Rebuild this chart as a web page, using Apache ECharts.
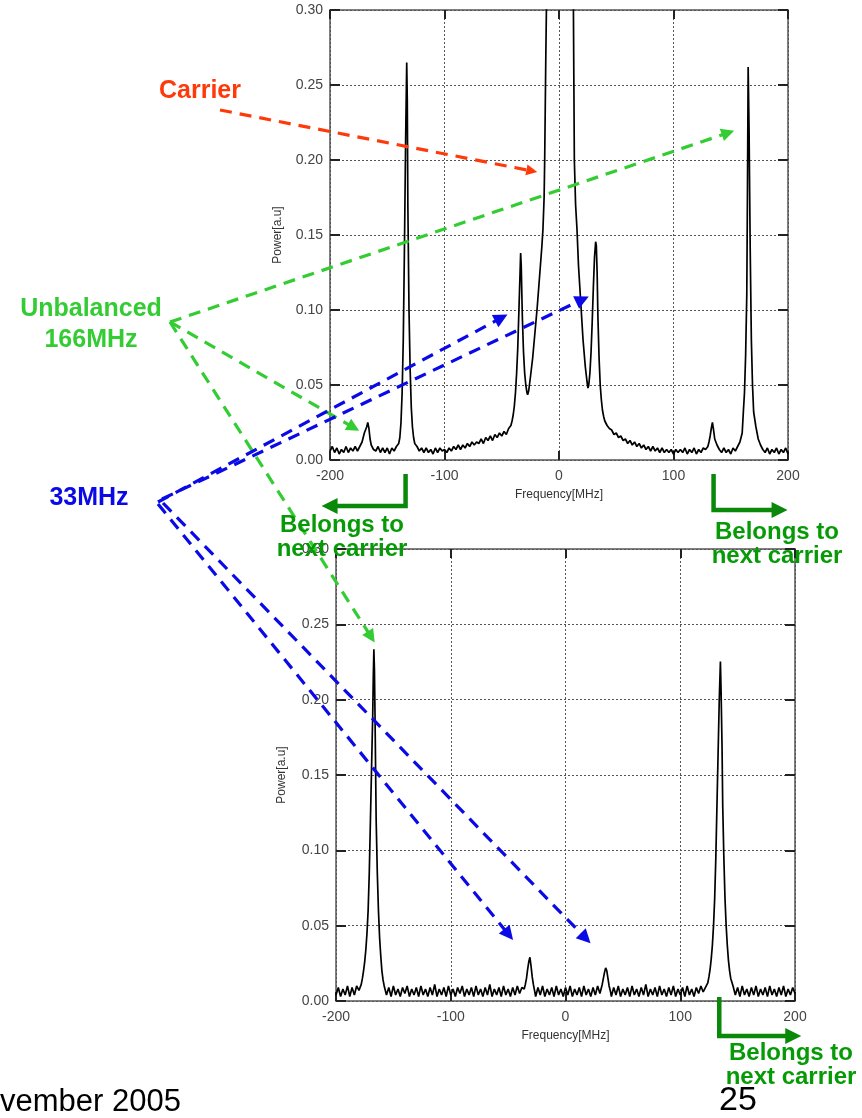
<!DOCTYPE html>
<html>
<head>
<meta charset="utf-8">
<script src="https://cdn.jsdelivr.net/npm/echarts@6/dist/echarts.min.js"></script>
<style>
html,body{margin:0;padding:0;background:#fff;}
#c{width:862px;height:1118px;}
</style>
</head>
<body>
<div id="c"></div>
<script>
// ---------- DATA ----------
const xTicks = [-200, -100, 0, 100, 200];
const yTicks = [0.00, 0.05, 0.10, 0.15, 0.20, 0.25, 0.30];

// Upper spectrum (carrier present)
const topFreq = [
-200,-198,-196,-194,-192,-190,-188,-186,-184,-182,-180,-178,-176,-174,-172,-170,-168,-167,-166,-165,-164,-162,
-160,-158,-156,-154,-152,-150,-148,-146,-144,-142,-140,-139,-138,-137,-136,-135,-134,-133,-132.5,-132,-131,-130,
-129,-128,-127,-126,-124,-122,-120,-118,-116,-114,-112,-110,-108,-106,-104,-102,-100,-98,-96,-94,-92,-90,-88,-86,
-84,-82,-80,-78,-76,-74,-72,-70,-68,-66,-64,-62,-60,-58,-56,-54,-52,-50,-48,-46,-44,-42,-41,-40,-39,-38,-37,-36,
-35,-34,-33.5,-33,-32,-31,-30,-29,-28,-27.4,-26.5,-25,-23,-21,-19,-17,-15,-14,-13,-12.5,-12,-11.5,-11,-10.5,-10,
-8,0,10,12,12.2,12.6,13.0,13.4,14.5,15.7,17,19,21,23,24.5,25.3,26,27,28,29,30,31,32,32.6,33.3,34,35,36,37,38,39,40,
42,44,46,48,50,52,54,56,58,60,62,64,66,68,70,72,74,76,78,80,82,84,86,88,90,92,94,96,98,100,102,104,106,108,110,
112,114,116,118,120,122,124,126,128,130,131,132,133,134,135,136,138,140,142,144,146,148,150,152,154,156,158,160,
161,162,163,164,164.6,165.2,166,167,168,169,170,172,174,176,178,180,182,184,186,188,190,192,194,196,198,200
];
const topPower = [
0.006,0.009,0.005,0.008,0.004,0.007,0.005,0.009,0.005,0.008,0.006,0.009,0.006,0.009,0.012,0.018,0.022,0.025,0.021,0.014,0.010,0.007,
0.006,0.009,0.005,0.008,0.005,0.008,0.004,0.008,0.006,0.009,0.011,0.015,0.025,0.045,0.080,0.140,0.210,0.265,0.240,0.170,0.100,0.060,
0.035,0.022,0.015,0.011,0.009,0.006,0.008,0.005,0.008,0.005,0.007,0.004,0.008,0.005,0.008,0.006,0.007,0.005,0.008,0.006,0.009,0.007,0.010,0.007,
0.010,0.008,0.011,0.009,0.012,0.010,0.012,0.011,0.014,0.011,0.015,0.013,0.016,0.013,0.017,0.015,0.018,0.016,0.019,0.017,0.021,0.023,0.026,0.030,0.036,0.045,0.058,0.075,
0.100,0.125,0.138,0.130,0.095,0.072,0.058,0.050,0.045,0.0435,0.046,0.055,0.068,0.085,0.102,0.122,0.142,0.154,0.175,0.200,0.235,0.270,0.300,0.340,0.400,
0.600,0.900,0.600,0.400,0.340,0.300,0.250,0.200,0.170,0.154,0.130,0.105,0.080,0.062,0.052,0.048,0.050,0.058,0.072,0.092,0.115,0.135,0.1455,0.143,0.125,0.095,0.068,0.050,0.040,0.033,0.029,0.026,
0.023,0.021,0.020,0.017,0.018,0.015,0.016,0.013,0.014,0.011,0.013,0.010,0.012,0.009,0.011,0.008,0.010,0.007,0.009,0.006,0.009,0.006,0.008,0.005,0.008,0.005,0.007,0.005,0.007,0.004,0.007,0.005,0.007,0.005,0.008,0.004,
0.007,0.005,0.008,0.004,0.007,0.005,0.008,0.007,0.009,0.012,0.016,0.021,0.025,0.020,0.014,0.010,0.007,0.005,0.008,0.005,0.007,0.004,0.008,0.006,0.009,0.012,0.018,0.032,
0.045,0.070,0.110,0.180,0.262,0.220,0.140,0.080,0.050,0.032,0.022,0.014,0.010,0.007,0.005,0.008,0.004,0.007,0.005,0.008,0.004,0.007,0.005,0.008,0.004,0.007
];

// Lower spectrum (carrier suppressed), written segment by segment
const botFreq = [
// noise -200..-180
-200,-198,-196,-194,-192,-190,-188,-186,-184,-182,-180,
// peak near -166
-178,-177,-176,-175,-174,-173,-172,-171,-170,-169,-168,-167.5,-167,-166.5,-166,-165.5,-165,-164,-163,-162,-161,-160,-159,-158,
// noise -156..-38
-156,-154,-152,-150,-148,-146,-144,-142,-140,-138,
-136,-134,-132,-130,-128,-126,-124,-122,-120,-118,
-116,-114,-112,-110,-108,-106,-104,-102,-100,-98,
-96,-94,-92,-90,-88,-86,-84,-82,-80,-78,
-76,-74,-72,-70,-68,-66,-64,-62,-60,-58,
-56,-54,-52,-50,-48,-46,-44,-42,-40,-38,
// small peak near -31
-36,-35,-34,-33,-32,-31,-30,-29,-28,-27,
// noise -26..30
-26,-24,-22,-20,-18,-16,-14,-12,-10,-8,
-6,-4,-2,0,2,4,6,8,10,12,
14,16,18,20,22,24,26,28,30,
// small peak near 35
31,32,33,34,35,36,37,38,39,
// noise 40..122
40,42,44,46,48,50,52,54,56,58,
60,62,64,66,68,70,72,74,76,78,
80,82,84,86,88,90,92,94,96,98,
100,102,104,106,108,110,112,114,116,118,
120,122,
// peak near 135
124,125,126,127,128,129,130,131,132,133,134,135,135.6,136.4,137,138,139,140,141,142,143,144,146,
// noise 148..200
148,150,152,154,156,158,160,162,164,166,
168,170,172,174,176,178,180,182,184,186,
188,190,192,194,196,198,200
];
const botPower = [
0.004,0.009,0.003,0.008,0.004,0.010,0.003,0.009,0.004,0.010,0.007,
0.011,0.015,0.020,0.026,0.034,0.045,0.060,0.085,0.120,0.155,0.190,0.215,0.2335,0.220,0.190,0.155,0.120,0.085,0.060,0.042,0.030,0.020,0.014,0.010,
0.004,0.009,0.003,0.010,0.004,0.008,0.003,0.009,0.005,0.010,
0.003,0.008,0.004,0.009,0.003,0.010,0.004,0.008,0.003,0.009,
0.004,0.011,0.003,0.008,0.004,0.009,0.003,0.010,0.004,0.008,
0.003,0.009,0.005,0.010,0.003,0.008,0.004,0.009,0.003,0.010,
0.004,0.008,0.003,0.009,0.004,0.011,0.003,0.008,0.004,0.009,
0.003,0.010,0.004,0.008,0.003,0.009,0.004,0.010,0.005,0.009,
0.008,0.011,0.015,0.021,0.026,0.029,0.023,0.016,0.011,0.007,
0.003,0.009,0.004,0.010,0.003,0.008,0.004,0.009,0.003,0.010,
0.004,0.008,0.003,0.009,0.004,0.010,0.003,0.008,0.004,0.009,
0.003,0.010,0.004,0.008,0.003,0.009,0.004,0.010,0.005,
0.008,0.011,0.015,0.019,0.022,0.020,0.015,0.010,0.007,
0.003,0.009,0.004,0.010,0.003,0.008,0.004,0.009,0.003,0.010,
0.004,0.008,0.003,0.009,0.004,0.011,0.003,0.008,0.004,0.009,
0.003,0.010,0.004,0.008,0.003,0.009,0.004,0.010,0.003,0.008,
0.004,0.009,0.003,0.010,0.004,0.008,0.003,0.009,0.005,0.010,
0.006,0.009,
0.012,0.016,0.021,0.028,0.037,0.050,0.068,0.095,0.130,0.165,0.200,0.2253,0.205,0.170,0.130,0.095,0.068,0.050,0.037,0.027,0.020,0.015,0.010,
0.004,0.009,0.003,0.010,0.004,0.008,0.003,0.009,0.004,0.010,
0.003,0.008,0.004,0.009,0.003,0.010,0.004,0.008,0.003,0.009,
0.004,0.010,0.003,0.008,0.004,0.009,0.005
];

// Annotation anchors (in data coordinates of each panel)
const carrierTip = [-19, 0.192];
const greenTipsTop = [[153, 0.2195], [-174.5, 0.0195]];
const greenTipBottom = [-166.3, 0.238];
const blueTipsTop = [[-45, 0.097], [26, 0.109]];
const blueTipsBottom = [[-45.7, 0.0405], [21.8, 0.0383]];
const bracketTopX = [-134, 135];
const bracketBottomX = 134;

// ---------- CHART ----------
const FONT = "'Liberation Sans', Arial, sans-serif";
const chart = echarts.init(document.getElementById('c'), null, {renderer: 'canvas'});

const grids = [
  {left: 330, top: 10, width: 458, height: 450},
  {left: 336, top: 549, width: 459, height: 452}
];

function xAxes(gi) {
  const common = {
    type: 'value', gridIndex: gi, min: xTicks[0], max: xTicks[xTicks.length - 1], interval: 100,
    axisLine: {show: true, onZero: false, lineStyle: {color: '#555', width: 1.5}},
    axisTick: {show: true, inside: true, length: 9, lineStyle: {color: '#222', width: 2}}
  };
  return [
    Object.assign({}, common, {
      position: 'bottom',
      name: 'Frequency[MHz]', nameLocation: 'middle', nameGap: 29,
      nameTextStyle: {fontFamily: FONT, fontSize: 12, color: '#333'},
      axisLabel: {show: true, margin: 9, fontFamily: FONT, fontSize: 14, color: '#444'},
      splitLine: {show: true, lineStyle: {color: '#555', type: [2, 2], width: 1}}
    }),
    Object.assign({}, common, {
      position: 'top', axisLabel: {show: false}, splitLine: {show: false}
    })
  ];
}
function yAxes(gi, gap) {
  const common = {
    type: 'value', gridIndex: gi, min: 0, max: 0.3, interval: 0.05,
    axisLine: {show: true, onZero: false, lineStyle: {color: '#555', width: 1.5}},
    axisTick: {show: true, inside: true, length: 10, lineStyle: {color: '#222', width: 2}}
  };
  return [
    Object.assign({}, common, {
      position: 'left',
      name: 'Power[a.u]', nameLocation: 'middle', nameGap: gap, nameRotate: 90,
      nameTextStyle: {fontFamily: FONT, fontSize: 12, color: '#333'},
      axisLabel: {show: true, margin: 7, fontFamily: FONT, fontSize: 14, color: '#444',
        formatter: v => v.toFixed(2)},
      splitLine: {show: true, lineStyle: {color: '#555', type: [2, 2], width: 1}}
    }),
    Object.assign({}, common, {
      position: 'right', axisLabel: {show: false}, splitLine: {show: false}
    })
  ];
}

function zip(f, p) { return f.map((x, i) => [x, p[i]]); }

const option = {
  backgroundColor: '#fff',
  animation: false,
  grid: grids.map(g => Object.assign({containLabel: false, outerBoundsMode: 'none'}, g)),
  xAxis: [...xAxes(0), ...xAxes(1)],
  yAxis: [...yAxes(0, 46), ...yAxes(1, 48)],
  series: [
    {type: 'line', xAxisIndex: 0, yAxisIndex: 0, data: zip(topFreq, topPower), showSymbol: false,
     clip: true, lineStyle: {color: '#000', width: 1.7}, z: 3},
    {type: 'line', xAxisIndex: 2, yAxisIndex: 2, data: zip(botFreq, botPower), showSymbol: false,
     clip: true, lineStyle: {color: '#000', width: 1.7}, z: 3}
  ]
};
chart.setOption(option);

// ---------- ANNOTATIONS ----------
const RED = '#ff3a0a', GREEN = '#33cc33', BLUE = '#0a0ae6', DKGREEN = '#0a880a', TXTGREEN = '#079a07';
function px(gi, pt) { return chart.convertToPixel({gridIndex: gi}, pt); }

function dashedArrow(p1, p2, color, head) {
  head = head || 12;
  const dx = p2[0] - p1[0], dy = p2[1] - p1[1];
  const L = Math.hypot(dx, dy), ux = dx / L, uy = dy / L;
  const bx = p2[0] - ux * head, by = p2[1] - uy * head;
  const hw = head * 0.5;
  return [
    {type: 'line', z: 100, silent: true,
     shape: {x1: p1[0], y1: p1[1], x2: bx + ux * 2, y2: by + uy * 2},
     style: {stroke: color, lineWidth: 3.2, lineDash: [12, 8]}},
    {type: 'polygon', z: 100, silent: true,
     shape: {points: [[p2[0], p2[1]], [bx - uy * hw, by + ux * hw], [bx + uy * hw, by - ux * hw]]},
     style: {fill: color}}
  ];
}
function solidArrowPath(points, color) {
  const n = points.length;
  const p2 = points[n - 1], p1 = points[n - 2];
  const dx = p2[0] - p1[0], dy = p2[1] - p1[1];
  const L = Math.hypot(dx, dy), ux = dx / L, uy = dy / L;
  const head = 16, hw = 8;
  const bx = p2[0] - ux * head, by = p2[1] - uy * head;
  const pts = points.slice(0, n - 1).concat([[bx + ux, by + uy]]);
  return [
    {type: 'polyline', z: 100, silent: true, shape: {points: pts},
     style: {stroke: color, lineWidth: 4.5, fill: null, lineJoin: 'miter'}},
    {type: 'polygon', z: 100, silent: true,
     shape: {points: [[p2[0], p2[1]], [bx - uy * hw, by + ux * hw], [bx + uy * hw, by - ux * hw]]},
     style: {fill: color}}
  ];
}
function label(text, x, y, color, size, lh) {
  return {type: 'text', z: 110, silent: true, x: x, y: y,
    style: {text: text, fill: color, font: 'bold ' + size + 'px ' + FONT,
      align: 'center', verticalAlign: 'middle', lineHeight: lh}};
}

const g = [];
// Carrier
g.push(label('Carrier', 200, 91, RED, 25, 28));
g.push(...dashedArrow([220, 110], px(0, carrierTip), RED, 11));
// Unbalanced 166MHz
g.push(label('Unbalanced\n166MHz', 91, 325, GREEN, 25, 31));
const gO = [170, 322];
g.push(...dashedArrow(gO, px(0, greenTipsTop[0]), GREEN, 13));
g.push(...dashedArrow(gO, px(0, greenTipsTop[1]), GREEN, 13));
g.push(...dashedArrow(gO, px(1, greenTipBottom), GREEN, 13));
// 33MHz
g.push(label('33MHz', 89, 498, BLUE, 25, 28));
g.push(...dashedArrow([158, 502], px(0, blueTipsTop[0]), BLUE, 14));
g.push(...dashedArrow([162, 499], px(0, blueTipsTop[1]), BLUE, 14));
g.push(...dashedArrow([158, 504], px(1, blueTipsBottom[0]), BLUE, 14));
g.push(...dashedArrow([163, 503], px(1, blueTipsBottom[1]), BLUE, 14));
// Belongs to next carrier brackets
const tl = px(0, [bracketTopX[0], 0]);
g.push(...solidArrowPath([[tl[0], tl[1] + 14], [tl[0], tl[1] + 46], [tl[0] - 84, tl[1] + 46]], DKGREEN));
g.push(label('Belongs to\nnext carrier', 342, 537, TXTGREEN, 24, 24));
const tr = px(0, [bracketTopX[1], 0]);
g.push(...solidArrowPath([[tr[0], tr[1] + 14], [tr[0], tr[1] + 50], [tr[0] + 74, tr[1] + 50]], DKGREEN));
g.push(label('Belongs to\nnext carrier', 777, 544, TXTGREEN, 24, 24));
const br = px(1, [bracketBottomX, 0]);
g.push(...solidArrowPath([[br[0], br[1] - 4], [br[0], br[1] + 35], [br[0] + 82, br[1] + 35]], DKGREEN));
g.push(label('Belongs to\nnext carrier', 791, 1065, TXTGREEN, 24, 24));
// Footer
g.push({type: 'text', z: 110, silent: true, x: 0, y: 1102,
  style: {text: 'vember 2005', fill: '#000', font: '31px ' + FONT, align: 'left', verticalAlign: 'middle'}});
g.push({type: 'text', z: 110, silent: true, x: 738, y: 1101,
  style: {text: '25', fill: '#000', font: '34px ' + FONT, align: 'center', verticalAlign: 'middle'}});

chart.setOption({graphic: {elements: g}});
</script>
</body>
</html>
